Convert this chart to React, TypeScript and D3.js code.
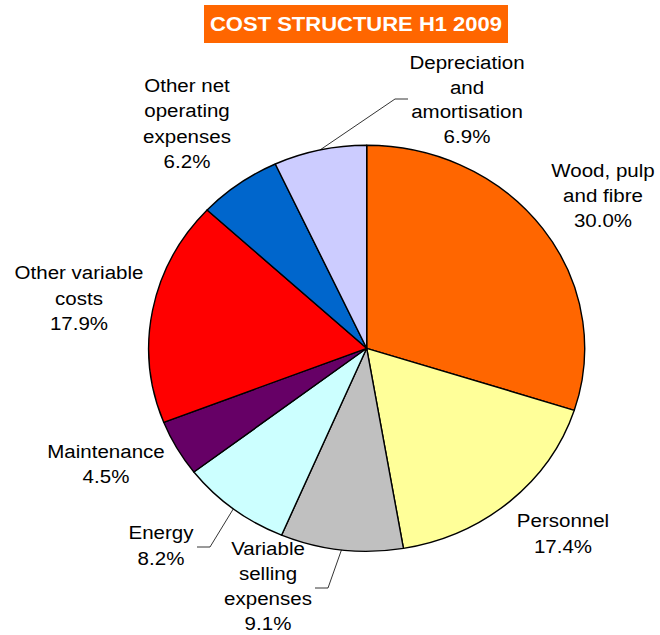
import React from "react";
import * as d3 from "d3";

const categories = [
  "Wood, pulp and fibre",
  "Personnel",
  "Variable selling expenses",
  "Energy",
  "Maintenance",
  "Other variable costs",
  "Other net operating expenses",
  "Depreciation and amortisation",
];
const values = [30.0, 17.4, 9.1, 8.2, 4.5, 17.9, 6.2, 6.9];
const labelLines = [
  ["Wood, pulp", "and fibre"],
  ["Personnel"],
  ["Variable", "selling", "expenses"],
  ["Energy"],
  ["Maintenance"],
  ["Other variable", "costs"],
  ["Other net", "operating", "expenses"],
  ["Depreciation", "and", "amortisation"],
];
const colors = ["#FF6600", "#FFFF99", "#C0C0C0", "#CCFFFF", "#660066", "#FF0000", "#0066CC", "#CCCCFF"];
const title = "COST STRUCTURE H1 2009";

// layout
const W = 660, H = 635;
const cx = 366.7, cy = 348.3, rx = 218, ry = 203;
const labelPos: { x: number; y: number; lh: number; leader?: [number, number][] }[] = [
  { x: 603, y: 177, lh: 25 },
  { x: 563, y: 527, lh: 25.5 },
  { x: 268, y: 555, lh: 25, leader: [[328, 588], [315, 588]] },
  { x: 161, y: 539, lh: 25.5, leader: [[210, 547], [197, 547]] },
  { x: 106, y: 458, lh: 25 },
  { x: 79, y: 279, lh: 25.5 },
  { x: 187, y: 92, lh: 25.3 },
  { x: 467, y: 69, lh: 24.5, leader: [[395, 99], [408, 99]] },
];
const SX = 1.08;

export default function App() {
  const data = categories.map((c, i) => ({ c, v: values[i], i }));
  const pie = d3.pie<any>().value((d) => d.v).sort(null);
  const arcs = pie(data);
  const arc = d3.arc<any>().innerRadius(0).outerRadius(rx);
  const ys = ry / rx;
  const font = "'Liberation Sans', Arial, sans-serif";

  return (
    <svg width={W} height={H} style={{ position: "absolute", left: 0, top: 0, background: "#fff" }}>
      <rect x={204} y={5} width={304} height={38} fill="#FF6600" />
      <text
        transform={`translate(356,30.5) scale(1.1,1)`}
        textAnchor="middle"
        fill="#fff"
        fontFamily={font}
        fontWeight="bold"
        fontSize={20}
      >
        {title}
      </text>
      <g transform={`translate(${cx},${cy}) scale(1,${ys})`}>
        {arcs.map((a, i) => (
          <path
            key={i}
            d={arc(a) as string}
            fill={colors[i]}
            stroke="#000"
            strokeWidth={1.4}
            strokeLinejoin="round"
            vectorEffect="non-scaling-stroke"
          />
        ))}
      </g>
      {arcs.map((a, i) => {
        const lp = labelPos[i];
        if (!lp.leader) return null;
        const mid = (a.startAngle + a.endAngle) / 2;
        const sx = cx + rx * Math.sin(mid);
        const sy = cy - ry * Math.cos(mid);
        const pts: [number, number][] = [[sx, sy], ...lp.leader];
        return (
          <path
            key={"l" + i}
            d={d3.line()(pts) as string}
            fill="none"
            stroke="#000"
            strokeWidth={0.8}
          />
        );
      })}
      {arcs.map((a, i) => {
        const lp = labelPos[i];
        const lines = [...labelLines[i], d3.format(".1f")(values[i]) + "%"];
        return (
          <g key={"t" + i}>
            {lines.map((ln, j) => (
              <text
                key={j}
                transform={`translate(${lp.x},${lp.y + j * lp.lh}) scale(${SX},1)`}
                textAnchor="middle"
                fontFamily={font}
                fontSize={19}
                fill="#000"
              >
                {ln}
              </text>
            ))}
          </g>
        );
      })}
    </svg>
  );
}
